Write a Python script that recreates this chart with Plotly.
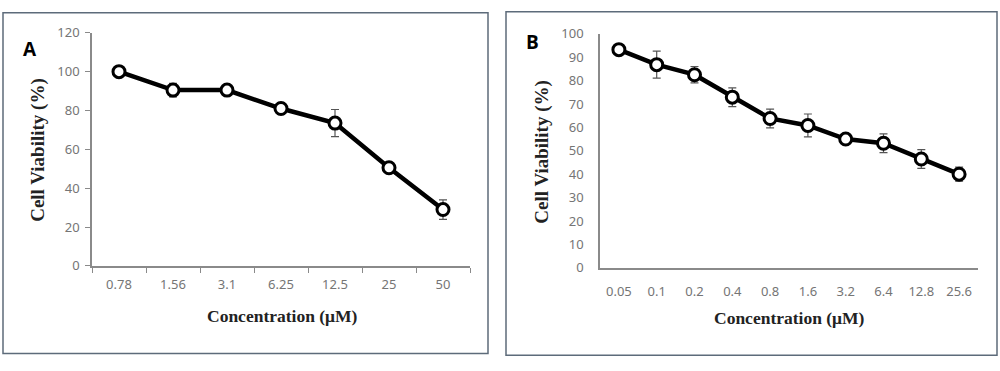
import plotly.graph_objects as go

W, H = 1000, 371

conc_a = ["0.78", "1.56", "3.1", "6.25", "12.5", "25", "50"]
via_a = [100, 90.5, 90.5, 81, 73.5, 50.5, 29]
err_a = [1, 3.5, 1, 3, 7, 1, 5]

conc_b = ["0.05", "0.1", "0.2", "0.4", "0.8", "1.6", "3.2", "6.4", "12.8", "25.6"]
via_b = [93.2, 86.8, 82.5, 72.9, 63.8, 60.8, 55, 53.2, 46.5, 40]
err_b = [1, 5.8, 3.5, 4, 4, 4.9, 1, 4, 4, 3]

yticks_a = [0, 20, 40, 60, 80, 100, 120]
yticks_b = [0, 10, 20, 30, 40, 50, 60, 70, 80, 90, 100]

x_title = "Concentration (μM)"
y_title = "Cell Viability (%)"

fig = go.Figure()

def add_series(x, y, e, xa, ya):
    fig.add_trace(go.Scatter(
        x=x, y=y, xaxis=xa, yaxis=ya, mode="lines+markers",
        line=dict(color="black", width=4.5),
        marker=dict(symbol="circle", size=12, color="white",
                    line=dict(color="black", width=3)),
        error_y=dict(type="data", array=e, visible=True,
                     color="#555555", thickness=1.2, width=4),
        showlegend=False, cliponaxis=False))

add_series(conc_a, via_a, err_a, "x", "y")
add_series(conc_b, via_b, err_b, "x2", "y2")

def py(p):
    return 1 - p / H

tickfont = dict(family="Noto Sans, Open Sans, sans-serif", size=13, color="#757575")
titlefont_x = dict(family="Liberation Serif, Times New Roman, serif", size=17.5, color="#222222")
titlefont_y = dict(family="Liberation Serif, Times New Roman, serif", size=19, color="#222222")
axcol = "#8a8a8a"

fig.update_layout(
    width=W, height=H, margin=dict(l=0, r=0, t=0, b=0),
    paper_bgcolor="white", plot_bgcolor="white",
    xaxis=dict(domain=[92 / W, 470 / W], anchor="y", type="category",
               range=[-0.5, 6.5], showline=True, linecolor=axcol, linewidth=1.5,
               ticks="outside", ticklen=5, tickcolor=axcol, tickson="boundaries",
               ticklabelstandoff=6,
               showgrid=False, zeroline=False, tickfont=tickfont),
    yaxis=dict(domain=[py(270), py(25)], anchor="x", range=[0, 120],
               tickvals=yticks_a, showline=True, linecolor=axcol, linewidth=1.5,
               ticks="outside", ticklen=5, tickcolor=axcol, ticklabelstandoff=3,
               showgrid=False, zeroline=False, tickfont=tickfont),
    xaxis2=dict(domain=[600 / W, 978 / W], anchor="y2", type="category",
                range=[-0.5, 9.5], showline=True, linecolor=axcol, linewidth=1.5,
                ticks="", ticklabelstandoff=11,
                showgrid=False, zeroline=False, tickfont=tickfont),
    yaxis2=dict(domain=[py(272), py(26)], anchor="x2", range=[0, 100],
                tickvals=yticks_b, showline=True, linecolor=axcol, linewidth=1.5,
                ticks="", ticklabelstandoff=12,
                showgrid=False, zeroline=False, tickfont=tickfont),
)

border = "#5d6b7a"
fig.add_shape(type="rect", xref="paper", yref="paper",
              x0=3 / W, x1=488 / W, y0=py(362), y1=py(4),
              line=dict(color=border, width=1.5))
fig.add_shape(type="rect", xref="paper", yref="paper",
              x0=506 / W, x1=997 / W, y0=py(364), y1=py(3),
              line=dict(color=border, width=1.5))

def note(text, x, y, font, angle=0):
    fig.add_annotation(text=text, xref="paper", yref="paper", x=x / W, y=py(y),
                       xanchor="center", yanchor="middle", textangle=angle,
                       showarrow=False, font=font)

note("<b>" + x_title + "</b>", 282, 323, titlefont_x)
note("<b>" + x_title + "</b>", 789, 325, titlefont_x)
note("<b>" + y_title + "</b>", 38, 148, titlefont_y, -90)
note("<b>" + y_title + "</b>", 542, 150, titlefont_y, -90)

panelfont = dict(family="Open Sans, Noto Sans, sans-serif", size=19, color="black")
note("<b>A</b>", 30, 42, panelfont)
note("<b>B</b>", 532, 35, panelfont)

fig.write_html("out.html", config={"displayModeBar": False},
               post_script="document.body.style.margin='0';document.body.style.overflow='hidden';")
